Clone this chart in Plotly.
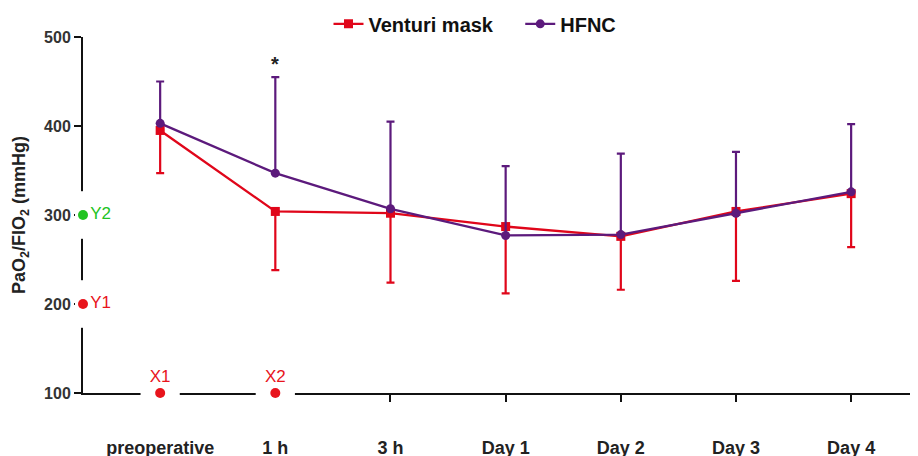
import plotly.graph_objects as go

categories = ["preoperative", "1 h", "3 h", "Day 1", "Day 2", "Day 3", "Day 4"]
venturi_mean = [395, 304, 302, 287, 276, 304, 324]
venturi_err_minus = [48, 66, 78, 75, 60, 78, 60]
hfnc_mean = [403, 347, 307, 277, 278, 302, 326]
hfnc_err_plus = [47, 108, 98, 78, 91, 69, 76]
y_ticks = [100, 200, 300, 400, 500]
x_marks = [("X1", 0), ("X2", 1)]
y_marks = [("Y1", 200, "#e8141c"), ("Y2", 300, "#22c322")]

RED = "#e0061a"
PURPLE = "#5c1a7c"
FONT = "Arial, Liberation Sans, sans-serif"
XR = [-0.67, 6.65]
YR = [100, 500]
NB = "\u00a0"

x_idx = list(range(len(categories)))

fig = go.Figure()
fig.add_trace(go.Scatter(
    x=x_idx, y=venturi_mean, name="<b>Venturi mask</b>" + NB * 4, mode="lines+markers",
    line=dict(color=RED, width=2.3),
    marker=dict(symbol="square", size=9, color=RED),
    error_y=dict(type="data", array=[0] * len(venturi_mean), arrayminus=venturi_err_minus,
                 symmetric=False, color=RED, thickness=2.2, width=4),
    cliponaxis=False,
))
fig.add_trace(go.Scatter(
    x=x_idx, y=hfnc_mean, name="<b>HFNC</b>", mode="lines+markers",
    line=dict(color=PURPLE, width=2.3),
    marker=dict(symbol="circle", size=9, color=PURPLE),
    error_y=dict(type="data", array=hfnc_err_plus, arrayminus=[0] * len(hfnc_mean),
                 symmetric=False, color=PURPLE, thickness=2.2, width=4),
    cliponaxis=False,
))

# calibration-like markers on the axes (white gaps + dots + labels)
fig.add_trace(go.Scatter(
    x=[m[1] for m in x_marks], y=[YR[0]] * len(x_marks), mode="markers",
    marker=dict(symbol="line-ew", size=28, line=dict(color="white", width=18)),
    showlegend=False, hoverinfo="skip", cliponaxis=False,
))
fig.add_trace(go.Scatter(
    x=[XR[0]] * len(y_marks), y=[m[1] for m in y_marks], mode="markers",
    marker=dict(symbol="line-ns", size=34, line=dict(color="white", width=16)),
    showlegend=False, hoverinfo="skip", cliponaxis=False,
))
fig.add_trace(go.Scatter(
    x=[m[1] for m in x_marks], y=[YR[0]] * len(x_marks), mode="markers+text",
    marker=dict(symbol="circle", size=10, color="#e8141c"),
    text=[m[0] for m in x_marks], textposition="top center",
    textfont=dict(family=FONT, size=17, color="#e8141c"),
    showlegend=False, hoverinfo="skip", cliponaxis=False,
))
fig.add_trace(go.Scatter(
    x=[XR[0]] * len(y_marks), y=[m[1] for m in y_marks], mode="markers+text",
    marker=dict(symbol="circle", size=10, color=[m[2] for m in y_marks]),
    text=[m[0] for m in y_marks], textposition="middle right",
    textfont=dict(family=FONT, size=17, color=[m[2] for m in y_marks]),
    showlegend=False, hoverinfo="skip", cliponaxis=False,
))

fig.add_annotation(x=1, y=470, text="<b>*</b>", showarrow=False,
                   font=dict(family=FONT, size=20, color="#222"), yanchor="middle")

# page body has an 8px margin; margins compensate so the plot lands where the reference has it
fig.update_layout(
    width=918, height=456,
    margin=dict(l=75, r=0, t=29, b=71, autoexpand=False),
    paper_bgcolor="white", plot_bgcolor="white",
    font=dict(family=FONT, color="#222"),
    legend=dict(orientation="h", x=0.465, xanchor="center", y=1.037, yanchor="middle",
                font=dict(family=FONT, size=20, color="#111"), itemwidth=30,
                bgcolor="rgba(0,0,0,0)"),
    showlegend=True,
)
fig.update_xaxes(
    range=XR, tickmode="array", tickvals=x_idx,
    ticktext=[f"<b>{c}</b>" for c in categories],
    showgrid=False, zeroline=False, showline=True, linecolor="#111", linewidth=2,
    ticks="outside", ticklen=7, tickwidth=2, tickcolor="#111",
    tickfont=dict(family=FONT, size=18, color="#222"),
    ticklabelstandoff=30, layer="below traces", automargin=False,
)
fig.update_yaxes(
    range=YR, tickmode="array", tickvals=y_ticks,
    ticktext=[f"<b>{t}</b>" for t in y_ticks],
    showgrid=False, zeroline=False, showline=True, linecolor="#111", linewidth=2,
    ticks="outside", ticklen=7, tickwidth=2, tickcolor="#111",
    tickfont=dict(family=FONT, size=16, color="#333"),
    title=dict(text="<b>PaO<sub>2</sub>/FIO<sub>2</sub> (mmHg)</b>",
               font=dict(family=FONT, size=18, color="#222"), standoff=14),
    layer="below traces", automargin=False,
)

fig.write_html("out.html")
